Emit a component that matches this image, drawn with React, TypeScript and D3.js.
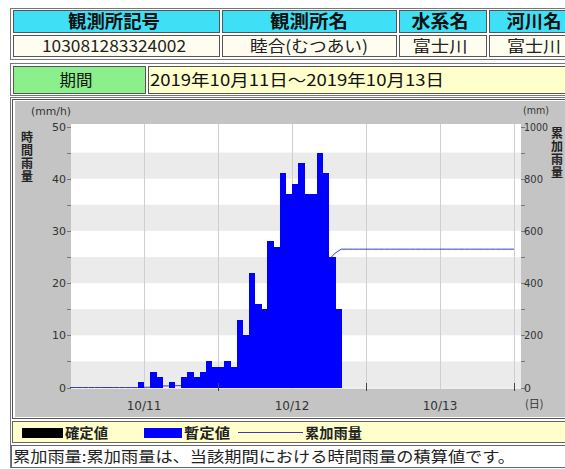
import React from "react";
import * as d3 from "d3";

// ---- data ----
const headerLabels = ["観測所記号", "観測所名", "水系名", "河川名"];
const headerValues = ["103081283324002", "睦合(むつあい)", "富士川", "富士川"];
const periodLabel = "期間";
const periodText = "2019年10月11日～2019年10月13日";
// hourly rainfall (mm/h) from 2019-10-11 00:00, 72 hours
const hourlyRain = [
  0, 0, 0, 0, 0, 0, 0, 0, 0, 0, 0, 1,
  0, 3, 2, 0, 1, 0, 2, 3, 2, 3, 5, 4,
  4, 5, 4, 13, 10, 22, 16, 15, 28, 27, 41, 37,
  39, 43, 37, 37, 45, 41, 25, 15, 0, 0, 0, 0,
  0, 0, 0, 0, 0, 0, 0, 0, 0, 0, 0, 0,
  0, 0, 0, 0, 0, 0, 0, 0, 0, 0, 0, 0,
];
const dayLabels = ["10/11", "10/12", "10/13"];
const leftTicks = [0, 5, 10, 15, 20, 25, 30, 35, 40, 45, 50];
const rightTicks = [0, 100, 200, 300, 400, 500, 600, 700, 800, 900, 1000];
const legendItems = ["確定値", "暫定値", "累加雨量"];
const leftTitle = "時間雨量";
const rightTitle = "累加雨量";
const noteText = "累加雨量:累加雨量は、当該期間における時間雨量の積算値です。";

const CJK = '"Noto Sans CJK JP", sans-serif';
const NUM = '"DejaVu Sans", sans-serif';

export default function App() {
  const x = d3.scaleLinear().domain([0, 72]).range([70, 514]);
  const yL = d3.scaleLinear().domain([0, 50]).range([387.5, 126.5]);
  const yR = d3.scaleLinear().domain([0, 1000]).range([387.5, 126.5]);
  const cum = Array.from(d3.cumsum(hourlyRain));
  const pts: [number, number][] = [[0, 0], ...cum.map((c, i) => [i + 1, c] as [number, number])];
  const linePath = d3
    .line<[number, number]>()
    .x((d) => x(d[0]))
    .y((d) => yR(d[1]))(pts) as string;

  const plotL = 71, plotR = 521, plotT = 124, plotB = 389;
  const bands = d3.range(0, 50, 5);

  const cols = [
    [13, 219],
    [222, 396],
    [399, 486],
    [489, 610],
  ];
  const textX = [114, 309, 440, 534];
  const headerW = [92, 78, 57, 55];
  const valueW = [144, 118, 55, 54];

  return (
    <div style={{ position: "absolute", left: 0, top: 0 }}>
      <svg width={565} height={469} style={{ display: "block", background: "#fff" }}>
        {/* ---- station table ---- */}
        <rect x={10.5} y={8.5} width={600} height={51} fill="#fff" stroke="#777" />
        {cols.map(([a, b], i) => (
          <g key={"c" + i}>
            <rect x={a + 0.5} y={10.5} width={b - a} height={22} fill="#3fe0f5" stroke="#555" />
            <rect x={a + 0.5} y={35.5} width={b - a} height={21} fill="#fffdf0" stroke="#555" />
            <text
              x={textX[i]}
              y={28}
              textAnchor="middle"
              fontFamily={CJK}
              fontSize={18}
              fontWeight="bold"
              fill="#111"
              textLength={headerW[i]}
              lengthAdjust="spacingAndGlyphs"
            >
              {headerLabels[i]}
            </text>
            <text
              x={textX[i]}
              y={52}
              textAnchor="middle"
              fontFamily={CJK}
              fontSize={16}
              fill="#222"
              textLength={valueW[i]}
              lengthAdjust="spacingAndGlyphs"
            >
              {headerValues[i]}
            </text>
          </g>
        ))}

        {/* ---- period table ---- */}
        <rect x={10.5} y={63.5} width={600} height={32} fill="#fff" stroke="#777" />
        <rect x={13.5} y={66.5} width={132} height={27} fill="#8bef8b" stroke="#555" />
        <rect x={148.5} y={66.5} width={462} height={27} fill="#ffffcc" stroke="#555" />
        <text x={76} y={86} textAnchor="middle" fontFamily={CJK} fontSize={16} fill="#111" textLength={33} lengthAdjust="spacingAndGlyphs">
          {periodLabel}
        </text>
        <text x={150} y={86} fontFamily={CJK} fontSize={16} fill="#111" textLength={294} lengthAdjust="spacingAndGlyphs">
          {periodText}
        </text>

        {/* ---- chart box ---- */}
        <rect x={10.5} y={97.5} width={600} height={370} fill="#fff" stroke="#777" />
        <rect x={12.5} y={99.5} width={600} height={319} fill="#fff" stroke="#555" />
        <rect x={15} y={101} width={600} height={316} fill="#c4c4c4" />

        {/* plot background */}
        <rect x={plotL} y={plotT} width={plotR - plotL} height={plotB - plotT} fill="#fff" />
        {bands.map((b, i) =>
          i % 2 === 0 ? (
            <rect key={"b" + b} x={plotL} y={yL(b + 5)} width={plotR - plotL} height={yL(b) - yL(b + 5)} fill="#ebebeb" />
          ) : null
        )}
        <rect x={plotL} y={yL(0)} width={plotR - plotL} height={plotB - yL(0)} fill="#ebebeb" />
        {[12, 24, 36, 48, 60, 72].map((h) => (
          <line key={"v" + h} x1={Math.round(x(h)) + 0.5} x2={Math.round(x(h)) + 0.5} y1={plotT} y2={plotB} stroke="#cfcfcf" />
        ))}

        {/* cumulative line (behind bars) */}
        <path d={linePath} fill="none" stroke="#3a3ab8" strokeWidth={1} />

        {/* bars */}
        <g shapeRendering="crispEdges">
          {hourlyRain.map((v, h) =>
            v > 0 ? (
              <rect key={"r" + h} x={x(h)} y={yL(v)} width={x(h + 1) - x(h) + 0.4} height={yL(0) - yL(v)} fill="#0000ff" />
            ) : null
          )}
        </g>

        {/* left axis */}
        {leftTicks.map((t) => (
          <g key={"l" + t}>
            <line x1={67} x2={71} y1={Math.round(yL(t)) + 0.5} y2={Math.round(yL(t)) + 0.5} stroke="#777" />
            {t % 10 === 0 ? (
              <text x={66} y={yL(t) + 4} textAnchor="end" fontFamily={NUM} fontSize={11} fill="#333">
                {t}
              </text>
            ) : null}
          </g>
        ))}
        <text x={31} y={115} fontFamily={NUM} fontSize={10} fill="#333" textLength={40} lengthAdjust="spacingAndGlyphs">
          (mm/h)
        </text>
        <text x={27} y={131} fontFamily={CJK} fontSize={12} fontWeight="bold" fill="#222" letterSpacing={1} style={{ writingMode: "vertical-rl" }}>
          {leftTitle}
        </text>

        {/* right axis */}
        {rightTicks.map((t) => (
          <g key={"rt" + t}>
            <line x1={521} x2={525} y1={Math.round(yR(t)) + 0.5} y2={Math.round(yR(t)) + 0.5} stroke="#777" />
            {t % 200 === 0 ? (
              <text x={524} y={yR(t) + 4} fontFamily={NUM} fontSize={11} fill="#333" textLength={t >= 1000 ? 24 : t === 0 ? undefined : 19} lengthAdjust="spacingAndGlyphs">
                {t}
              </text>
            ) : null}
          </g>
        ))}
        <text x={523} y={114} fontFamily={NUM} fontSize={10} fill="#333" textLength={26} lengthAdjust="spacingAndGlyphs">
          (mm)
        </text>
        <text x={557} y={127} fontFamily={CJK} fontSize={12} fontWeight="bold" fill="#222" letterSpacing={1} style={{ writingMode: "vertical-rl" }}>
          {rightTitle}
        </text>

        {/* x axis */}
        {[24, 48, 72].map((h) => (
          <line key={"xt" + h} x1={Math.round(x(h)) + 0.5} x2={Math.round(x(h)) + 0.5} y1={383} y2={391} stroke="#444" />
        ))}
        {dayLabels.map((d, i) => (
          <text key={"d" + d} x={x(i * 24 + 12)} y={410} textAnchor="middle" fontFamily={NUM} fontSize={12} fill="#333">
            {d}
          </text>
        ))}
        <text x={525} y={408} fontFamily={CJK} fontSize={11} fill="#333">
          (日)
        </text>

        {/* legend */}
        <rect x={12.5} y={421.5} width={600} height={21} fill="#ffffcc" stroke="#666" />
        <rect x={22} y={428} width={41} height={10} fill="#000" />
        <text x={65} y={438} fontFamily={CJK} fontSize={14} fontWeight="bold" fill="#222" textLength={43} lengthAdjust="spacingAndGlyphs">
          {legendItems[0]}
        </text>
        <rect x={144} y={428} width={38} height={10} fill="#0000ff" />
        <text x={184} y={438} fontFamily={CJK} fontSize={14} fontWeight="bold" fill="#222" textLength={46} lengthAdjust="spacingAndGlyphs">
          {legendItems[1]}
        </text>
        <line x1={238} x2={303} y1={432.5} y2={432.5} stroke="#3a3ab8" />
        <text x={305} y={438} fontFamily={CJK} fontSize={14} fontWeight="bold" fill="#222" textLength={57} lengthAdjust="spacingAndGlyphs">
          {legendItems[2]}
        </text>

        {/* note */}
        <rect x={11.5} y={445.5} width={600} height={22} fill="#fff" stroke="#666" />
        <text x={13} y={462} fontFamily={CJK} fontSize={15} fill="#222" textLength={502} lengthAdjust="spacingAndGlyphs">
          {noteText}
        </text>
      </svg>
    </div>
  );
}
